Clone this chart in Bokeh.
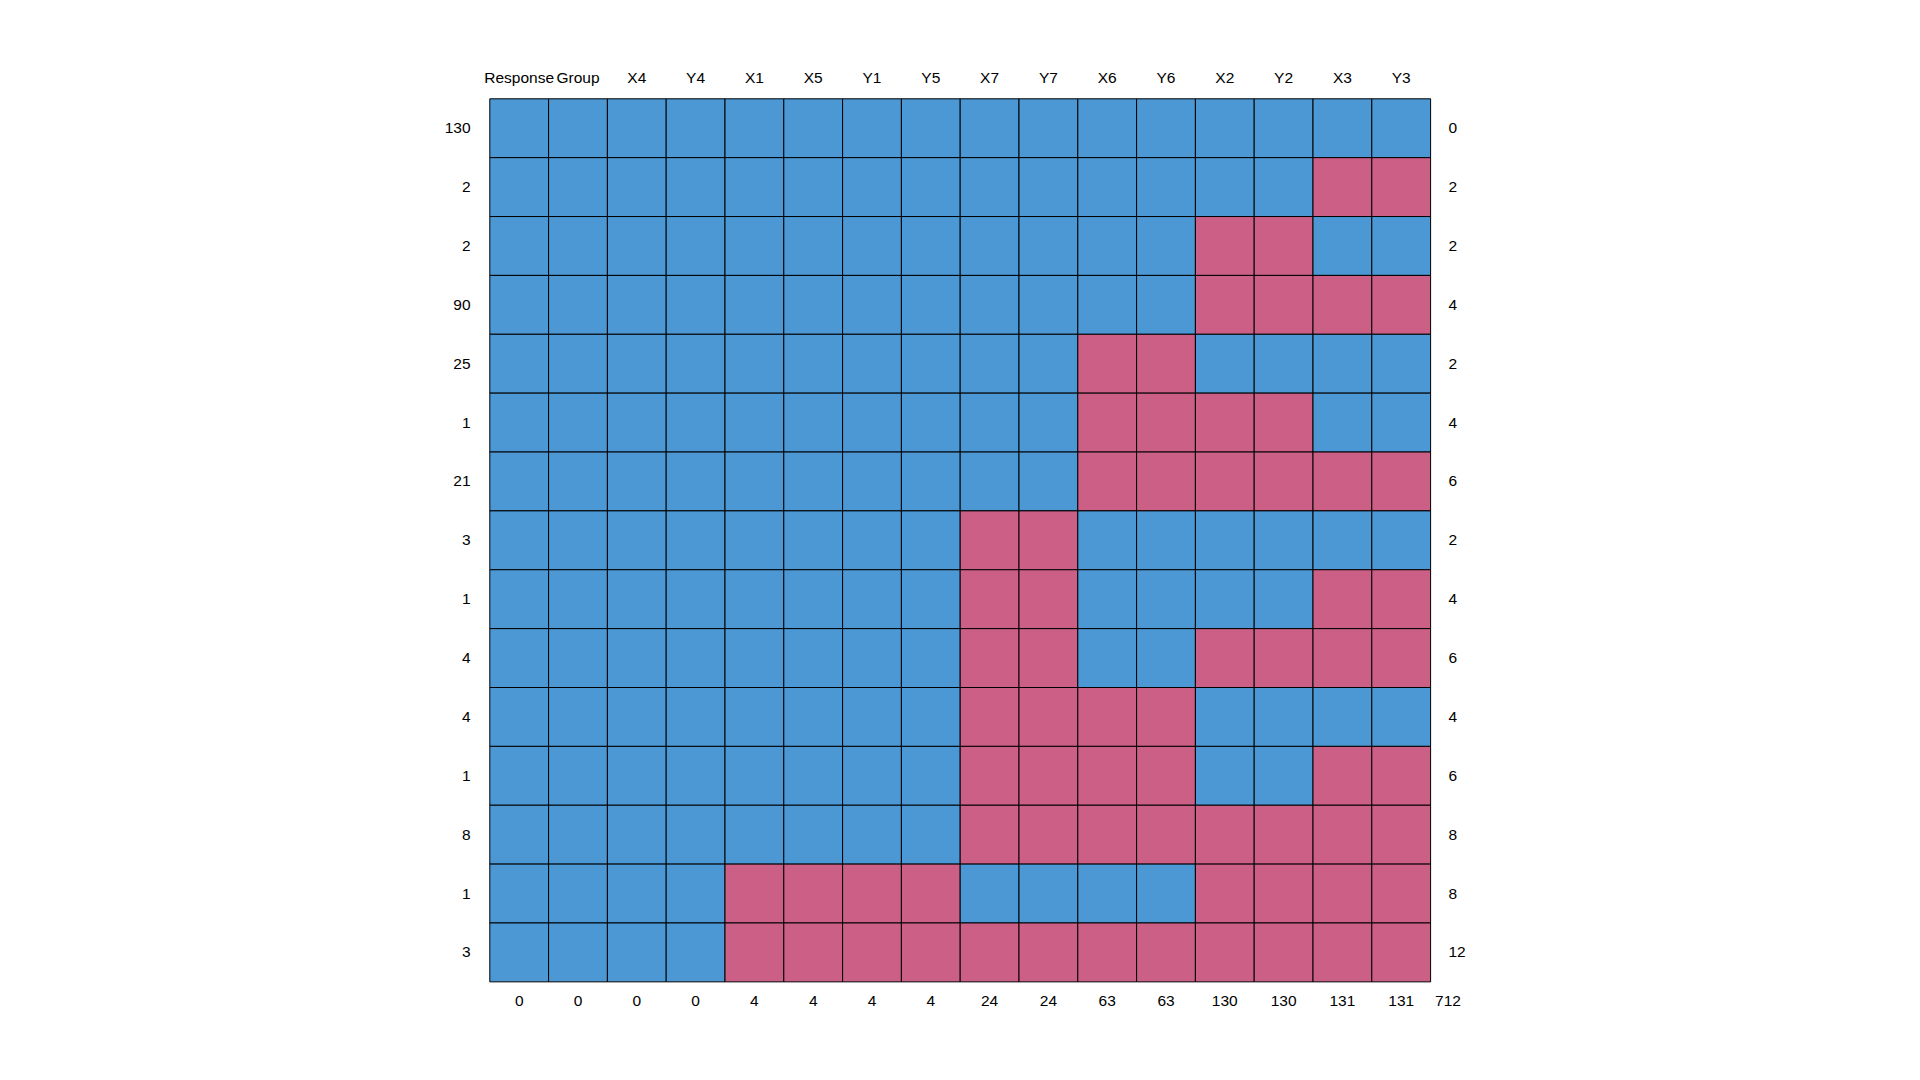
from bokeh.plotting import figure
from bokeh.models import Range1d
from bokeh.core.properties import value
from bokeh.embed import file_html
from bokeh.resources import INLINE

columns = ["Response", "Group", "X4", "Y4", "X1", "X5", "Y1", "Y5",
           "X7", "Y7", "X6", "Y6", "X2", "Y2", "X3", "Y3"]
row_counts = [130, 2, 2, 90, 25, 1, 21, 3, 1, 4, 4, 1, 8, 1, 3]
row_missing = [0, 2, 2, 4, 2, 4, 6, 2, 4, 6, 4, 6, 8, 8, 12]
col_missing = [0, 0, 0, 0, 4, 4, 4, 4, 24, 24, 63, 63, 130, 130, 131, 131]
total_missing = 712
# 1 = observed, 0 = missing
patterns = [
    "1111111111111111",
    "1111111111111100",
    "1111111111110011",
    "1111111111110000",
    "1111111111001111",
    "1111111111000011",
    "1111111111000000",
    "1111111100111111",
    "1111111100111100",
    "1111111100110000",
    "1111111100001111",
    "1111111100001100",
    "1111111100000000",
    "1111000011110000",
    "1111000000000000",
]

BLUE = "#4C98D4"
RED = "#CC5F85"
FONT = value("Liberation Sans")
SIZE = value("15.5px")

ncol = len(columns)
nrow = len(patterns)
cw = 58.8
ch = 58.87
x0px = 489.3
y0px = 98.3

p = figure(width=1920, height=1080, output_backend="svg", toolbar_location=None,
           x_axis_type=None, y_axis_type=None, min_border=0,
           x_range=Range1d(-x0px / cw, (1920 - x0px) / cw),
           y_range=Range1d((1080 - y0px) / ch, -y0px / ch))
p.outline_line_color = None
p.background_fill_color = "white"
p.border_fill_color = "white"

left, right, top, bottom, colors = [], [], [], [], []
for r, pat in enumerate(patterns):
    for c, ch_ in enumerate(pat):
        left.append(c)
        right.append(c + 1)
        top.append(r)
        bottom.append(r + 1)
        colors.append(BLUE if ch_ == "1" else RED)
p.quad(left=left, right=right, top=top, bottom=bottom, fill_color=colors,
       line_color="black", line_width=1)

# header
p.text(x=[c + 0.5 for c in range(ncol)], y=[(76.5 - y0px) / ch] * ncol, text=columns,
       text_font=FONT, text_font_size=SIZE, text_align="center",
       text_baseline="middle", text_color="black")
# left row counts
p.text(x=[(470 - x0px) / cw] * nrow, y=[r + 0.5 for r in range(nrow)],
       text=[str(v) for v in row_counts], text_font=FONT, text_font_size=SIZE,
       text_align="right", text_baseline="middle", text_color="black")
# right missing counts
p.text(x=[(1448 - x0px) / cw] * nrow, y=[r + 0.5 for r in range(nrow)],
       text=[str(v) for v in row_missing], text_font=FONT, text_font_size=SIZE,
       text_align="left", text_baseline="middle", text_color="black")
# bottom column missing counts
ybot = (1000.5 - y0px) / ch
p.text(x=[c + 0.5 for c in range(ncol)] + [(1447.5 - x0px) / cw],
       y=[ybot] * (ncol + 1),
       text=[str(v) for v in col_missing] + [str(total_missing)],
       text_font=FONT, text_font_size=SIZE, text_align="center",
       text_baseline="middle", text_color="black")

open("out.html", "w").write(file_html(p, INLINE))
